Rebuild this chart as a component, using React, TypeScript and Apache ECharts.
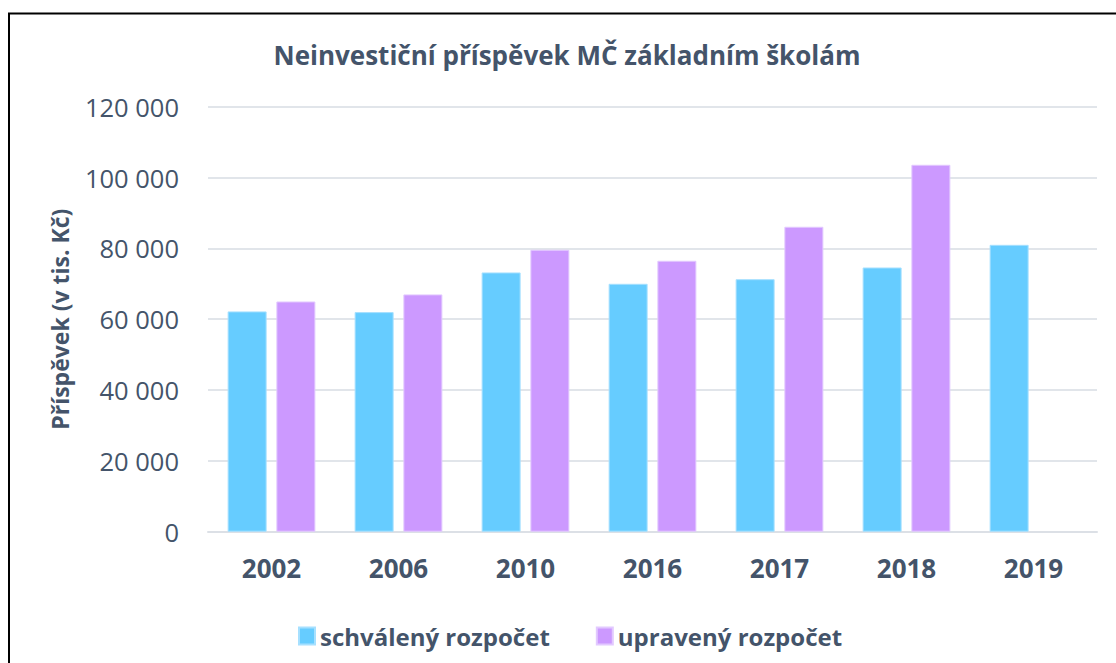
import React, { useEffect, useRef } from "react";
import * as echarts from "echarts";

const categories = ["2002", "2006", "2010", "2016", "2017", "2018", "2019"];
const schvaleny = [62200, 62000, 73200, 70000, 71300, 74600, 81000];
const upraveny: (number | null)[] = [65000, 67000, 79600, 76500, 86100, 103600, null];
const yTicks = { min: 0, max: 120000, interval: 20000 };

const TEXT = "#44546A";
const FONT = "'Open Sans', sans-serif";

export default function App() {
  const ref = useRef<HTMLDivElement>(null);
  useEffect(() => {
    if (!ref.current) return;
    const chart = echarts.init(ref.current, undefined, { renderer: "svg" });
    chart.setOption({
      animation: false,
      backgroundColor: "#ffffff",
      textStyle: { fontFamily: FONT, color: TEXT },
      title: {
        text: "Neinvestiční příspěvek MČ základním školám",
        left: 567,
        textAlign: "center",
        top: 42,
        padding: 0,
        textStyle: { fontFamily: FONT, fontSize: 26, fontWeight: "bold", color: TEXT },
      },
      legend: {
        left: 298,
        top: 624,
        padding: 0,
        itemWidth: 16,
        itemHeight: 17,
        itemGap: 46,
        icon: "rect",
        textStyle: { fontFamily: FONT, fontSize: 24, fontWeight: "bold", color: TEXT },
        data: ["schválený rozpočet", "upravený rozpočet"],
      },
      grid: { left: 208, right: 19, top: 106.7, bottom: 131.3, containLabel: false },
      xAxis: {
        type: "category",
        data: categories,
        axisTick: { show: false },
        axisLine: { show: true, lineStyle: { color: "#DCE0E6", width: 2 } },
        axisLabel: { margin: 23, fontSize: 26, fontWeight: "bold", color: TEXT, fontFamily: FONT },
      },
      yAxis: {
        type: "value",
        min: yTicks.min,
        max: yTicks.max,
        interval: yTicks.interval,
        name: "Příspěvek (v tis. Kč)",
        nameLocation: "middle",
        nameGap: 137,
        nameTextStyle: { fontSize: 23, fontWeight: "bold", color: TEXT, fontFamily: FONT },
        axisLine: { show: false },
        axisTick: { show: false },
        splitLine: { lineStyle: { color: "#E1E5EA", width: 2 } },
        axisLabel: {
          margin: 29,
          fontSize: 25.5,
          color: TEXT,
          fontFamily: FONT,
          formatter: (v: number) => String(v).replace(/\B(?=(\d{3})+(?!\d))/g, " "),
        },
      },
      series: [
        {
          name: "schválený rozpočet",
          type: "bar",
          data: schvaleny,
          barWidth: 39,
          barGap: "25%",
          itemStyle: { color: "#66CCFF", borderColor: "#A6E0FF", borderWidth: 1 },
        },
        {
          name: "upravený rozpočet",
          type: "bar",
          data: upraveny,
          barWidth: 39,
          barGap: "25%",
          itemStyle: { color: "#CC99FF", borderColor: "#E2C9FF", borderWidth: 1 },
        },
      ],
      graphic: [
        {
          type: "rect",
          shape: { x: 9, y: 13.5, width: 1300, height: 900 },
          style: { fill: "none", stroke: "#000000", lineWidth: 2 },
          silent: true,
        },
      ],
    });
    return () => chart.dispose();
  }, []);
  return (
    <div
      ref={ref}
      style={{ position: "fixed", left: 0, top: 0, width: 1116, height: 663 }}
    />
  );
}
